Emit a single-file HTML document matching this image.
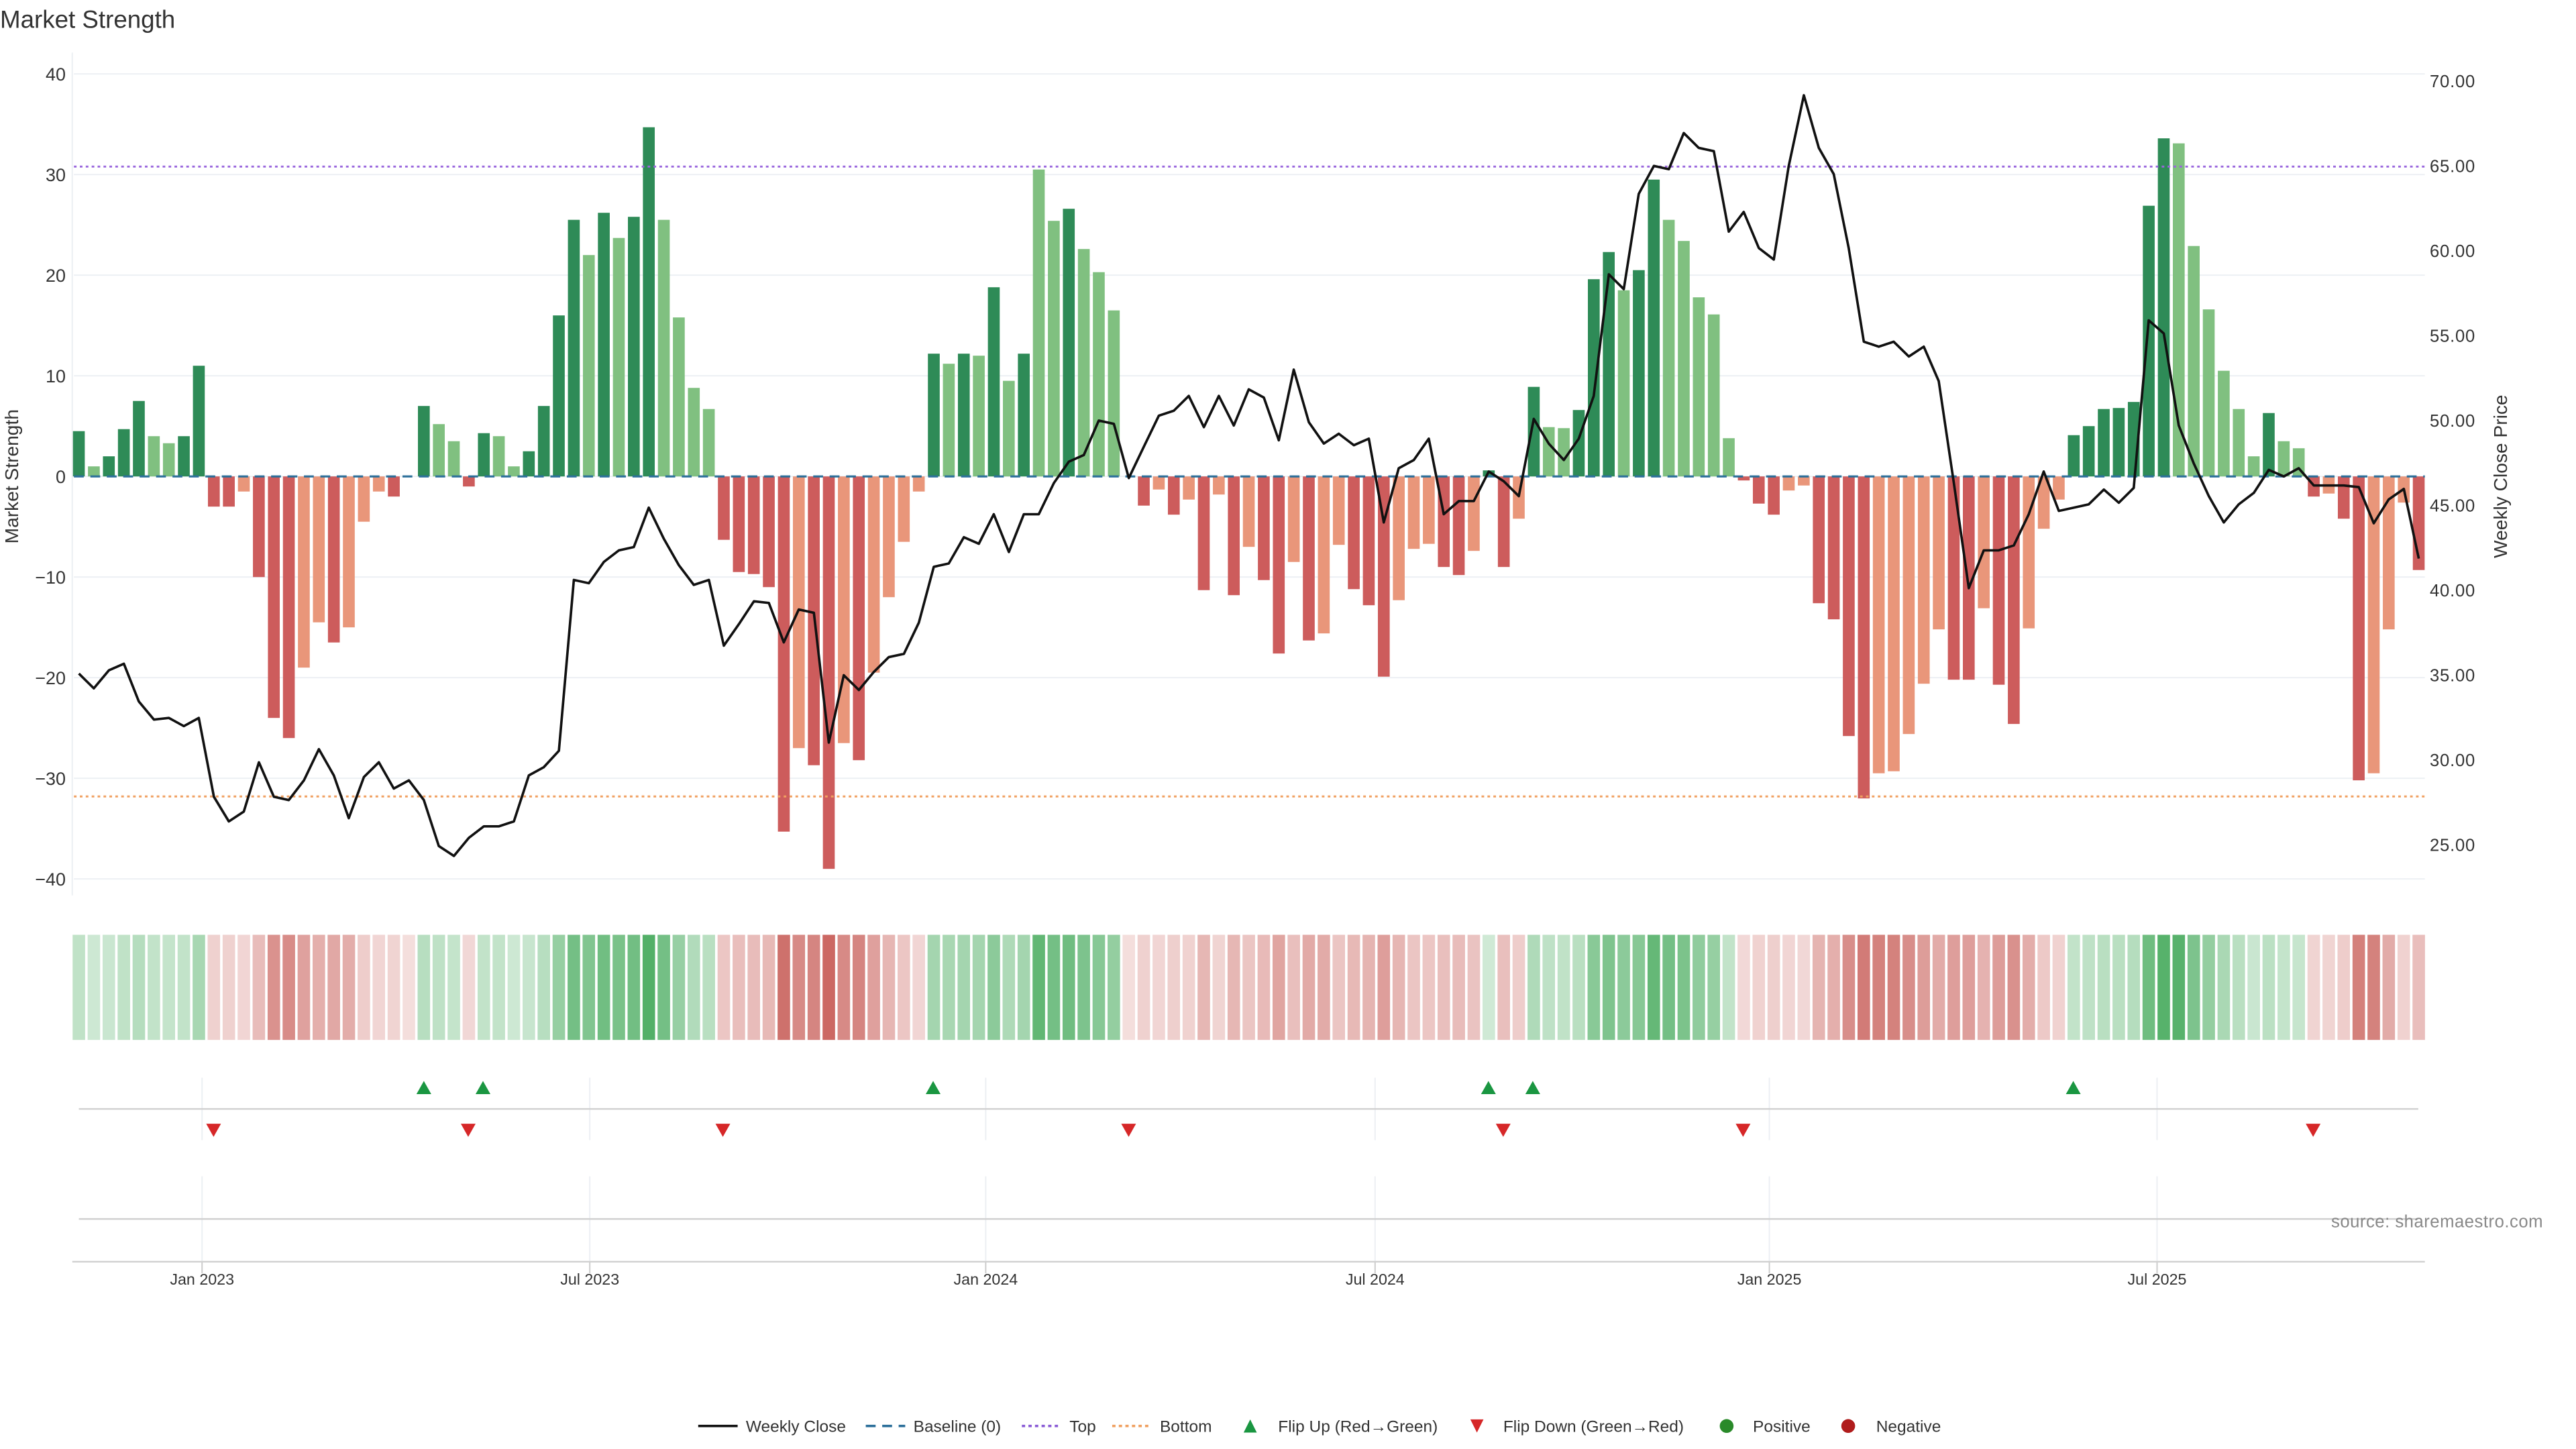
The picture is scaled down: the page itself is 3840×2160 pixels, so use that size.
<!DOCTYPE html>
<html><head><meta charset="utf-8"><style>
html,body{margin:0;padding:0;background:#fff;width:3840px;height:2160px;overflow:hidden}
svg{display:block}
text{font-family:"Liberation Sans","DejaVu Sans",sans-serif;fill:#333}
</style></head><body>
<svg id="s" width="3840" height="2160" viewBox="0 0 1568 882" xmlns="http://www.w3.org/2000/svg">
<text x="0" y="17" font-size="15">Market Strength</text>
<g id="g"></g>
<text transform="translate(11,290) rotate(-90)" font-size="11.5" text-anchor="middle">Market Strength</text>
<text transform="translate(1526,290) rotate(-90)" font-size="11.5" text-anchor="middle">Weekly Close Price</text>
<text x="1548" y="747" font-size="10.5" style="fill:#888" text-anchor="end" letter-spacing="0.2">source: sharemaestro.com</text>
<g font-size="10">
<line x1="425" y1="868" x2="449" y2="868" stroke="#111" stroke-width="1.5"/><text x="454" y="871.5">Weekly Close</text>
<line x1="527" y1="868" x2="551" y2="868" stroke="#2b6f9a" stroke-width="1.5" stroke-dasharray="6,4"/><text x="556" y="871.5">Baseline (0)</text>
<line x1="622" y1="868" x2="646" y2="868" stroke="#8a5cd6" stroke-width="1.5" stroke-dasharray="2,2"/><text x="651" y="871.5">Top</text>
<line x1="677" y1="868" x2="701" y2="868" stroke="#f0a060" stroke-width="1.5" stroke-dasharray="2,2"/><text x="706" y="871.5">Bottom</text>
<polygon points="757,872 765,872 761,864" fill="#1a9641"/><text x="778" y="871.5">Flip Up (Red→Green)</text>
<polygon points="895,864 903,864 899,872" fill="#d62728"/><text x="915" y="871.5">Flip Down (Green→Red)</text>
<circle cx="1051" cy="868" r="4.2" fill="#2a8a2a"/><text x="1067" y="871.5">Positive</text>
<circle cx="1125" cy="868" r="4.2" fill="#b01c1c"/><text x="1142" y="871.5">Negative</text>
</g>
</svg>
<script>
var V=[4.5,1,2,4.7,7.5,4,3.3,4,11,-3,-3,-1.5,-10,-24,-26,-19,-14.5,-16.5,-15,-4.5,-1.5,-2,0,
7,5.2,3.5,-1,4.3,4,1,2.5,7,16,25.5,22,26.2,23.7,25.8,34.7,25.5,15.8,8.8,6.7,
-6.3,-9.5,-9.7,-11,-35.3,-27,-28.7,-39,-26.5,-28.2,-19.5,-12,-6.5,-1.5,
12.2,11.2,12.2,12,18.8,9.5,12.2,30.5,25.4,26.6,22.6,20.3,16.5,0,
-2.9,-1.3,-3.8,-2.3,-11.3,-1.8,-11.8,-7,-10.3,-17.6,-8.5,-16.3,-15.6,-6.8,-11.2,-12.8,-19.9,-12.3,-7.2,-6.7,-9,-9.8,-7.4,0.6,-9,-4.2,8.9,4.9,4.8,6.6,19.6,22.3,18.5,20.5,29.5,25.5,23.4,17.8,16.1,3.8,-0.4,-2.7,-3.8,-1.4,-0.9,
-12.6,-14.2,-25.8,-32,-29.5,-29.3,-25.6,-20.6,-15.2,
-20.2,-20.2,-13.1,-20.7,-24.6,-15.1,-5.2,-2.3,4.1,5.0,6.7,6.8,7.4,26.9,33.6,33.1,22.9,16.6,10.5,6.7,2.0,6.3,3.5,2.8,-2.0,-1.7,-4.2,-30.2,-29.5,-15.2,-2.6,-9.3];
var C="DLDDDLLDD"+"RRORRROOROOOR"+"-"+"DLLRDLLDDDDLDLDDLLLL"+"RRRRRORROROOOO"+"DLDLDLDLLDLLL"+"-"+
"ROROR"+"ORORR"+"OROOR"+"RROOO"+"RRODR"+"ODLLD"+"DDLDD"+"LLLLL"+"RRROO"+"RRRROOOOO"+"RRORROOODDDDDDDLLLLLLDLLRORROOOR";
var P=[410,419,408,404,427,438,437,442,437,485,500,494,464,485,487,475,456,472,498,473,464,480,475,487,515,521,510,503,503,500,472,467,457,353,355,342,335,333,309,328,344,356,353,393,380,366,367,391,371,373,452,411,420,409,400,398,379,345,343,327,331,313,336,313,313,294,281,277,256,258,291,272,253,250,241,260,241,259,237,242,268,225,257,270,264,271,267,318,285,280,267,313,305,305,287,293,302,255,270,280,267,241,167,176,118,101,103,81,90,92,141,129,151,158,101,58,90,106,151,208,211,208,217,211,232,
294,358,335,335,332,313,287,311,309,307,298,306,297,195,203,259,282,302,318,307,300,286,290,285,295.5,295.5,295.5,296.5,318.5,304,297.6,340];
var o=[],x0=48,s=9.13,N=V.length;
function X(i){return x0+i*s}
function Y(v){return 290-v*6.125}
for(var v=-40;v<=40;v+=10)o.push('<line x1="45" x2="1476" y1="'+Y(v)+'" y2="'+Y(v)+'" stroke="#eceff3" stroke-width="0.8"/>');
o.push('<line x1="44" x2="44" y1="32" y2="545" stroke="#eceff3" stroke-width="0.8"/>');
for(var v=-40;v<=40;v+=10)o.push('<text x="40" y="'+(Y(v)+4)+'" font-size="11" text-anchor="end">'+(v<0?'−'+(-v):v)+'</text>');
for(var p=25;p<=70;p+=5)o.push('<text x="1479" y="'+(49+(70-p)*10.333+4)+'" font-size="10.5" font-family="DejaVu Sans" letter-spacing="0.3">'+p+'.00</text>');
var col={D:"#2e8b57",L:"#80c080",R:"#cd5c5c",O:"#e9967a"};
for(var i=0;i<N;i++){var c=C[i];if(c=="-"||!col[c])continue;var v=V[i],y=Math.min(Y(v),290),h=Math.abs(v*6.125);
o.push('<rect x="'+(X(i)-3.6)+'" y="'+y+'" width="7.2" height="'+h+'" fill="'+col[c]+'"/>');}
o.push('<line x1="45" x2="1476" y1="290" y2="290" stroke="#2b6f9a" stroke-width="1.3" stroke-dasharray="6,4"/>');
o.push('<line x1="45" x2="1476" y1="101.4" y2="101.4" stroke="#9966dd" stroke-width="1.2" stroke-dasharray="1.6,2"/>');
o.push('<line x1="45" x2="1476" y1="484.8" y2="484.8" stroke="#f0a060" stroke-width="1.2" stroke-dasharray="1.6,2"/>');
var pts=[];for(var i=0;i<N;i++)pts.push(X(i).toFixed(1)+','+P[i]);
o.push('<polyline points="'+pts.join(' ')+'" fill="none" stroke="#111" stroke-width="1.5" stroke-linejoin="round"/>');
for(var i=0;i<N;i++){var v=V[i],a=0.25+0.75*Math.min(Math.abs(v)/38,1);var f=(C[i]=="D"||C[i]=="L")?"rgba(70,170,92,"+a.toFixed(2)+")":"rgba(198,88,82,"+(a*0.9).toFixed(2)+")";
if(v==0)f="rgba(198,88,82,0.2)";
o.push('<rect x="'+(X(i)-3.8)+'" y="569" width="7.6" height="64" fill="'+f+'"/>');}
var T=[123,359,600,837,1077,1313],L=["Jan 2023","Jul 2023","Jan 2024","Jul 2024","Jan 2025","Jul 2025"];
for(var k=0;k<6;k++){o.push('<line x1="'+T[k]+'" x2="'+T[k]+'" y1="656" y2="694" stroke="#eceff3" stroke-width="0.8"/>');
o.push('<line x1="'+T[k]+'" x2="'+T[k]+'" y1="716" y2="768" stroke="#eceff3" stroke-width="0.8"/>');
o.push('<line x1="'+T[k]+'" x2="'+T[k]+'" y1="768" y2="775" stroke="#ccc" stroke-width="0.8"/>');
o.push('<text x="'+T[k]+'" y="782" font-size="9.5" text-anchor="middle">'+L[k]+'</text>');}
o.push('<line x1="48" x2="1472" y1="675" y2="675" stroke="#d0d0d0" stroke-width="1"/>');
o.push('<line x1="48" x2="1472" y1="742" y2="742" stroke="#d0d0d0" stroke-width="1"/>');
o.push('<line x1="44" x2="1476" y1="768" y2="768" stroke="#d0d0d0" stroke-width="1"/>');
[258,294,568,906,933,1262].forEach(function(x){o.push('<polygon points="'+(x-4.5)+',666 '+(x+4.5)+',666 '+x+',658" fill="#1a9641"/>');});
[130,285,440,687,915,1061,1408].forEach(function(x){o.push('<polygon points="'+(x-4.5)+',684 '+(x+4.5)+',684 '+x+',692" fill="#d62728"/>');});
document.getElementById("g").innerHTML=o.join("");
</script>
</body></html>
